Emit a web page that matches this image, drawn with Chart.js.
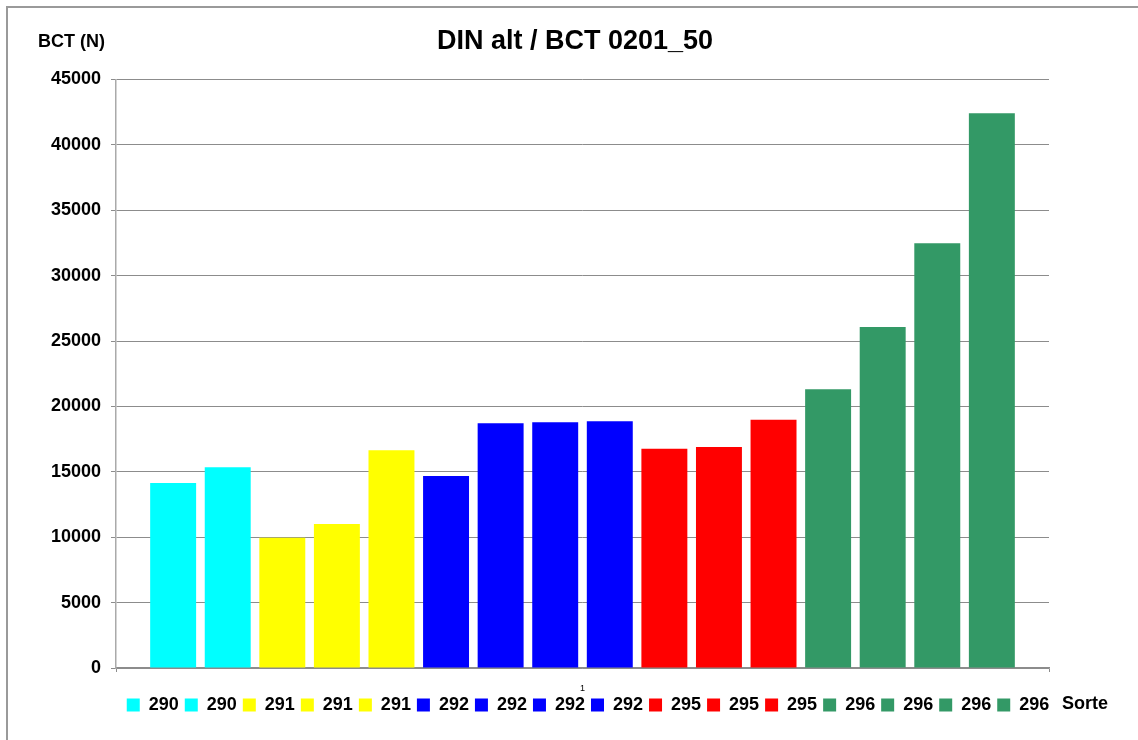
<!DOCTYPE html>
<html>
<head>
<meta charset="utf-8">
<script src="https://cdn.jsdelivr.net/npm/chart.js@4"></script>
<style>
    html, body { margin: 0; padding: 0; background: #fff; }
    #wrap { position: relative; width: 1138px; height: 740px; }
</style>
</head>
<body>
<div id="wrap"><canvas id="bctChart" width="1138" height="740"></canvas></div>
<script>
// Data
const sorten = ['290', '290', '291', '291', '291', '292', '292', '292', '292', '295', '295', '295', '296', '296', '296', '296'];
const bctValues = [14150, 15350, 9950, 11000, 16650, 14670, 18720, 18790, 18870, 16760, 16900, 18970, 21320, 26070, 32470, 42410];
const sorteColors = {
    '290': '#00FFFF',
    '291': '#FFFF00',
    '292': '#0000FF',
    '295': '#FF0000',
    '296': '#339966'
};
const categories = ['1'];
const yTicks = { min: 0, max: 45000, step: 5000 };

const FONT = "Arial, 'Liberation Sans', sans-serif";
const gridGrey = '#8c8c8c';

// one dataset per bar, like the Excel original
const datasets = sorten.map((s, i) => ({
    label: s,
    data: [bctValues[i]],
    backgroundColor: sorteColors[s],
    borderWidth: 0,
    categoryPercentage: 0.936,
    barPercentage: 0.842
}));

// frame + axis captions, and nudge the legend row into place
const extrasPlugin = {
    id: 'extras',
    afterLayout(chart) {
        const lg = chart.legend;
        if (lg) {
            lg.left += 13;
            lg.right += 13;
            lg.top -= 8;
            lg.bottom -= 8;
        }
    },
    afterDraw(chart) {
        const ctx = chart.ctx;
        ctx.save();
        ctx.strokeStyle = '#9a9a9a';
        ctx.lineWidth = 2;
        ctx.beginPath();
        ctx.moveTo(1140, 7);
        ctx.lineTo(7, 7);
        ctx.lineTo(7, 742);
        ctx.stroke();

        ctx.fillStyle = '#000';
        ctx.font = 'bold 18px ' + FONT;
        ctx.textBaseline = 'middle';
        ctx.textAlign = 'left';
        ctx.fillText('BCT (N)', 38, 42);
        ctx.fillText('Sorte', 1062, 704);
        ctx.restore();
    }
};

new Chart(document.getElementById('bctChart'), {
    type: 'bar',
    data: {
        labels: categories,
        datasets: datasets
    },
    options: {
        responsive: false,
        animation: false,
        layout: {
            padding: { left: 12, right: 0, top: 0, bottom: 8 }
        },
        plugins: {
            title: {
                display: true,
                text: 'DIN alt / BCT 0201_50',
                color: '#000',
                font: { family: FONT, size: 27, weight: 'bold' },
                padding: { top: 25, bottom: 22 }
            },
            legend: {
                position: 'bottom',
                labels: {
                    color: '#000',
                    font: { family: FONT, size: 18, weight: 'bold' },
                    boxWidth: 13,
                    boxHeight: 13,
                    padding: 6
                }
            },
            tooltip: { enabled: false }
        },
        scales: {
            x: {
                grid: {
                    drawOnChartArea: false,
                    color: gridGrey,
                    tickLength: 4
                },
                border: { color: gridGrey, width: 1.5 },
                ticks: {
                    color: '#000',
                    font: { family: FONT, size: 9 },
                    padding: 11
                },
                afterFit: function(scale) { scale.height = 30; }
            },
            y: {
                min: yTicks.min,
                max: yTicks.max,
                ticks: {
                    stepSize: yTicks.step,
                    color: '#000',
                    font: { family: FONT, size: 18, weight: 'bold' },
                    padding: 10,
                    callback: function(value) { return String(value); }
                },
                grid: {
                    color: gridGrey,
                    tickLength: 5
                },
                border: { color: '#aaa', width: 1.5 },
                afterFit: function(scale) { scale.width = 104; }
            },
            yRight: {
                position: 'right',
                display: true,
                ticks: { display: false },
                grid: { display: false },
                border: { display: false },
                afterFit: function(scale) { scale.width = 89; }
            }
        }
    },
    plugins: [extrasPlugin]
});
</script>
</body>
</html>
